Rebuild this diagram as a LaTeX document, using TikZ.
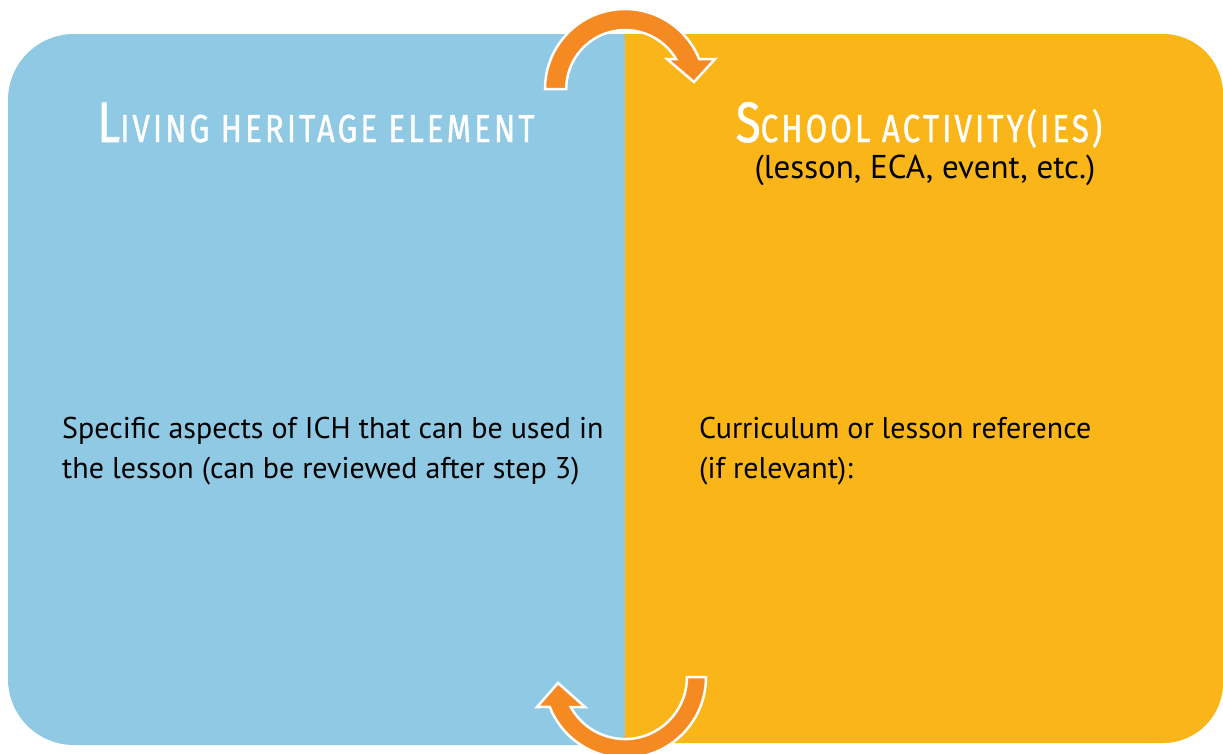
\documentclass[tikz,border=0pt]{standalone}
\usepackage{fontspec}
\setmainfont{PT Sans}
\newfontfamily\titlefont[FakeStretch=0.8, LetterSpace=8, FakeBold=1]{Fira Sans}
\usetikzlibrary{positioning}
\definecolor{ichblue}{HTML}{8FC9E4}
\definecolor{schoolorange}{HTML}{FAB518}
\definecolor{cyclearrow}{HTML}{F58A22}

\begin{document}
\begin{tikzpicture}[x=1pt, y=1pt,
    paneltitle/.style={text=white, inner sep=0pt, anchor=base,
      font=\titlefont\fontsize{39}{39}\selectfont},
    paneltext/.style={inner sep=0pt, anchor=base west, align=left,
      font=\fontsize{30}{40}\selectfont},
    cyclearrow/.style={fill=cyclearrow, draw=white, line width=2.5pt}]
  \useasboundingbox (0,0) rectangle (1223,-753);

  % left panel
  \begin{scope}
    \clip (0,0) rectangle (625,-753);
    \fill[ichblue, rounded corners=66pt] (8,-34) rectangle (720,-745);
  \end{scope}
  % right panel
  \begin{scope}
    \clip (625,0) rectangle (1223,-753);
    \fill[schoolorange, rounded corners=60pt] (530,-34) rectangle (1223,-743);
  \end{scope}

  \node[paneltitle] (lhtitle) at (316,-142)
    {{\fontsize{57}{57}\selectfont L}IVING HERITAGE ELEMENT};
  \node[paneltitle] (satitle) at (919,-142)
    {{\fontsize{57}{57}\selectfont S}CHOOL ACTIVITY(IES)};
  \node[inner sep=0pt, anchor=base, font=\fontsize{33}{33}\selectfont]
    (sasub) at (925,-178) {(lesson, ECA, event, etc.)};

  % base = baseline of the last line
  \node[paneltext] (lhtext) at (62,-478)
    {Specific aspects of ICH that can be used in\\
     the lesson (can be reviewed after step 3)};
  \node[paneltext] (satext) at (699,-478)
    {Curriculum or lesson reference\\(if relevant):};

  % cycle arrows
  \draw[cyclearrow] (545,-89) arc[start angle=180, end angle=22, radius=80pt]
    -- (715,-59) -- (694,-82) -- (667,-59) -- (676,-59)
    arc[start angle=30.6, end angle=180, radius=59pt] -- cycle;
  \draw[cyclearrow] (706,-677) arc[start angle=0, end angle=-158.3, radius=81pt]
    -- (537,-707) -- (558,-683) -- (585,-707) -- (570.7,-707)
    arc[start angle=208.9, end angle=360, radius=62pt] -- cycle;
\end{tikzpicture}
\end{document}
